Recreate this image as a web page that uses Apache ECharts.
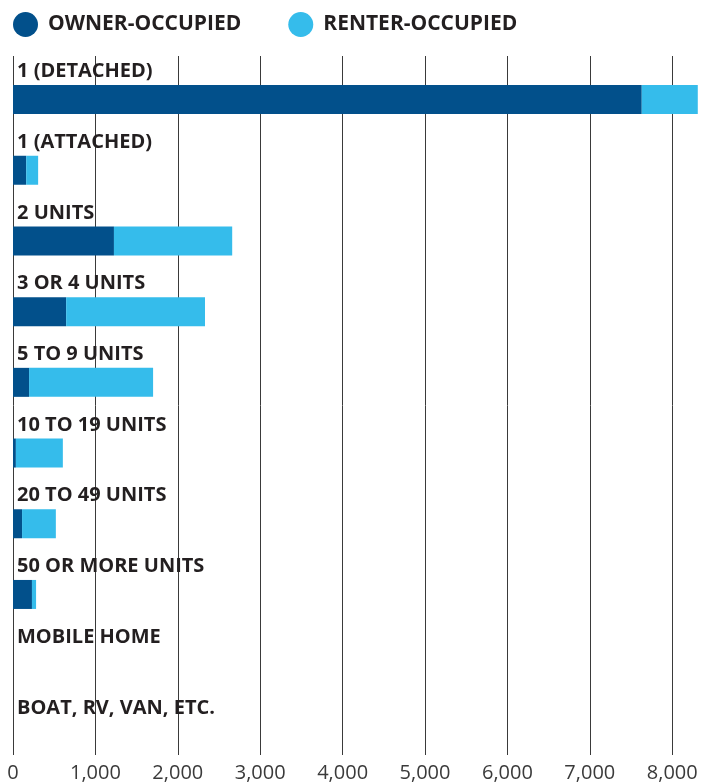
<!DOCTYPE html>
<html>
<head>
<meta charset="utf-8">
<script src="https://cdn.jsdelivr.net/npm/echarts@6/dist/echarts.min.js"></script>
<style>
  html, body { margin: 0; padding: 0; background: #fff; }
  #chart { width: 715px; height: 783px; }
</style>
</head>
<body>
<div id="chart"></div>
<script>
  const categories = [
    '1 (DETACHED)', '1 (ATTACHED)', '2 UNITS', '3 OR 4 UNITS', '5 TO 9 UNITS',
    '10 TO 19 UNITS', '20 TO 49 UNITS', '50 OR MORE UNITS', 'MOBILE HOME', 'BOAT, RV, VAN, ETC.'
  ];
  const ownerOccupied = [7630, 160, 1225, 645, 195, 35, 110, 230, 0, 0];
  const renterOccupied = [680, 145, 1435, 1685, 1505, 570, 410, 50, 0, 0];
  const seriesNames = ['OWNER-OCCUPIED', 'RENTER-OCCUPIED'];

  const font = '"Open Sans", "Noto Sans", sans-serif';
  const textColor = '#231f20';
  const xMin = 0, xMax = 8400, xStep = 1000;

  const chart = echarts.init(document.getElementById('chart'));

  chart.setOption({
    animation: false,
    textStyle: { fontFamily: font },
    legend: {
      data: seriesNames,
      left: 13,
      top: 12,
      padding: 0,
      icon: 'circle',
      itemWidth: 25,
      itemHeight: 25,
      itemGap: 47,
      textStyle: {
        fontFamily: font,
        fontSize: 21,
        fontWeight: 'bold',
        color: textColor,
        padding: [0, 0, 0, 5]
      }
    },
    grid: [
      // grid lines + x labels
      { left: 13, right: 9.8, top: 56, bottom: 26 },
      // bars + category labels
      { left: 13, right: 9.8, top: 64.2, bottom: 11.8 }
    ],
    xAxis: [
      {
        gridIndex: 0,
        type: 'value',
        min: xMin,
        max: xMax,
        interval: xStep,
        axisLine: { show: false },
        axisTick: { show: false },
        splitLine: { show: true, showMaxLine: false, lineStyle: { color: '#3a3a3a', width: 1 } },
        axisLabel: {
          showMaxLabel: false,
          fontFamily: font,
          fontSize: 20,
          color: '#3a3a3a',
          margin: 8,
          formatter: v => v.toLocaleString('en-US')
        }
      },
      {
        gridIndex: 1,
        type: 'value',
        min: xMin,
        max: xMax,
        show: false
      }
    ],
    yAxis: [
      { gridIndex: 0, type: 'value', show: false },
      {
        gridIndex: 1,
        type: 'category',
        data: categories,
        inverse: true,
        z: 5,
        axisLine: { show: false },
        axisTick: { show: false },
        splitLine: { show: false },
        axisLabel: {
          inside: true,
          margin: 4,
          align: 'left',
          verticalAlign: 'bottom',
          lineHeight: 20,
          padding: [0, 0, 18, 0],
          fontFamily: font,
          fontSize: 20,
          fontWeight: 'bold',
          color: textColor
        }
      }
    ],
    series: [
      {
        name: seriesNames[0],
        type: 'bar',
        stack: 'total',
        xAxisIndex: 1,
        yAxisIndex: 1,
        barWidth: 29,
        itemStyle: { color: '#02508b' },
        data: ownerOccupied
      },
      {
        name: seriesNames[1],
        type: 'bar',
        stack: 'total',
        xAxisIndex: 1,
        yAxisIndex: 1,
        barWidth: 29,
        itemStyle: { color: '#35bceb' },
        data: renterOccupied
      }
    ]
  });
</script>
</body>
</html>
